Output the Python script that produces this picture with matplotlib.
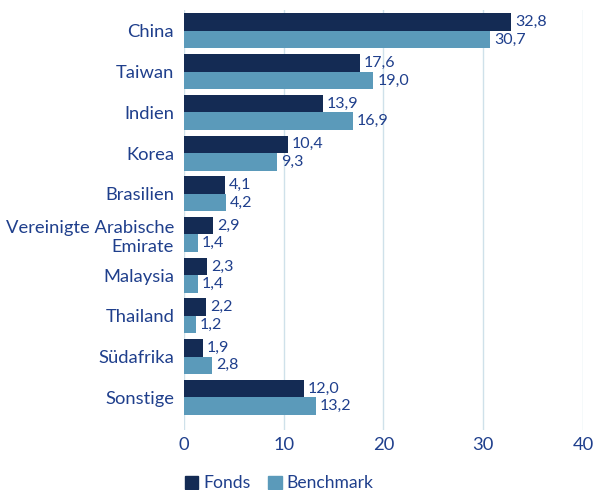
import numpy as np
import matplotlib.pyplot as plt
from matplotlib.patches import Patch

plt.rcParams['font.family'] = ['Lato', 'DejaVu Sans']

countries = ['China', 'Taiwan', 'Indien', 'Korea', 'Brasilien',
             'Vereinigte Arabische\nEmirate', 'Malaysia', 'Thailand',
             'Südafrika', 'Sonstige']
fonds = [32.8, 17.6, 13.9, 10.4, 4.1, 2.9, 2.3, 2.2, 1.9, 12.0]
benchmark = [30.7, 19.0, 16.9, 9.3, 4.2, 1.4, 1.4, 1.2, 2.8, 13.2]

navy = '#142b54'
steel = '#5b9aba'
text_col = '#1f3f8c'
grid_col = '#cfe1ea'

fig = plt.figure(figsize=(5.95, 4.9), dpi=100)
ax = fig.add_axes([0.309, 0.122, 0.671, 0.858])

y = np.arange(len(countries))
h = 0.43
ax.barh(y - h / 2, fonds, height=h, color=navy, zorder=3)
ax.barh(y + h / 2, benchmark, height=h, color=steel, zorder=3)

for yi, v in zip(y, fonds):
    ax.text(v + 0.4, yi - h / 2, f'{v:.1f}'.replace('.', ','), va='center',
            ha='left', fontsize=11.5, color=text_col)
for yi, v in zip(y, benchmark):
    ax.text(v + 0.4, yi + h / 2, f'{v:.1f}'.replace('.', ','), va='center',
            ha='left', fontsize=11.5, color=text_col)

ax.set_xlim(0, 40)
ax.set_ylim(9.81, -0.52)
ax.set_xticks([0, 10, 20, 30, 40])
ax.set_yticks(y)
ax.set_yticklabels(countries, ha='right', multialignment='right')
ax.tick_params(axis='y', length=0, pad=7, labelsize=13.2, labelcolor=text_col)
ax.tick_params(axis='x', length=0, pad=5, labelsize=13.2, labelcolor=text_col)
ax.grid(axis='x', color=grid_col, linewidth=1, zorder=0)
for s in ax.spines.values():
    s.set_visible(False)

handles = [Patch(color=navy, label='Fonds'), Patch(color=steel, label='Benchmark')]
fig.legend(handles=handles, loc='lower left', bbox_to_anchor=(0.285, -0.035),
           ncol=2, frameon=False, fontsize=12.6, labelcolor=text_col,
           handlelength=0.75, handleheight=0.75, handletextpad=0.3, columnspacing=1.0)

fig.savefig('out.png', dpi=100)
